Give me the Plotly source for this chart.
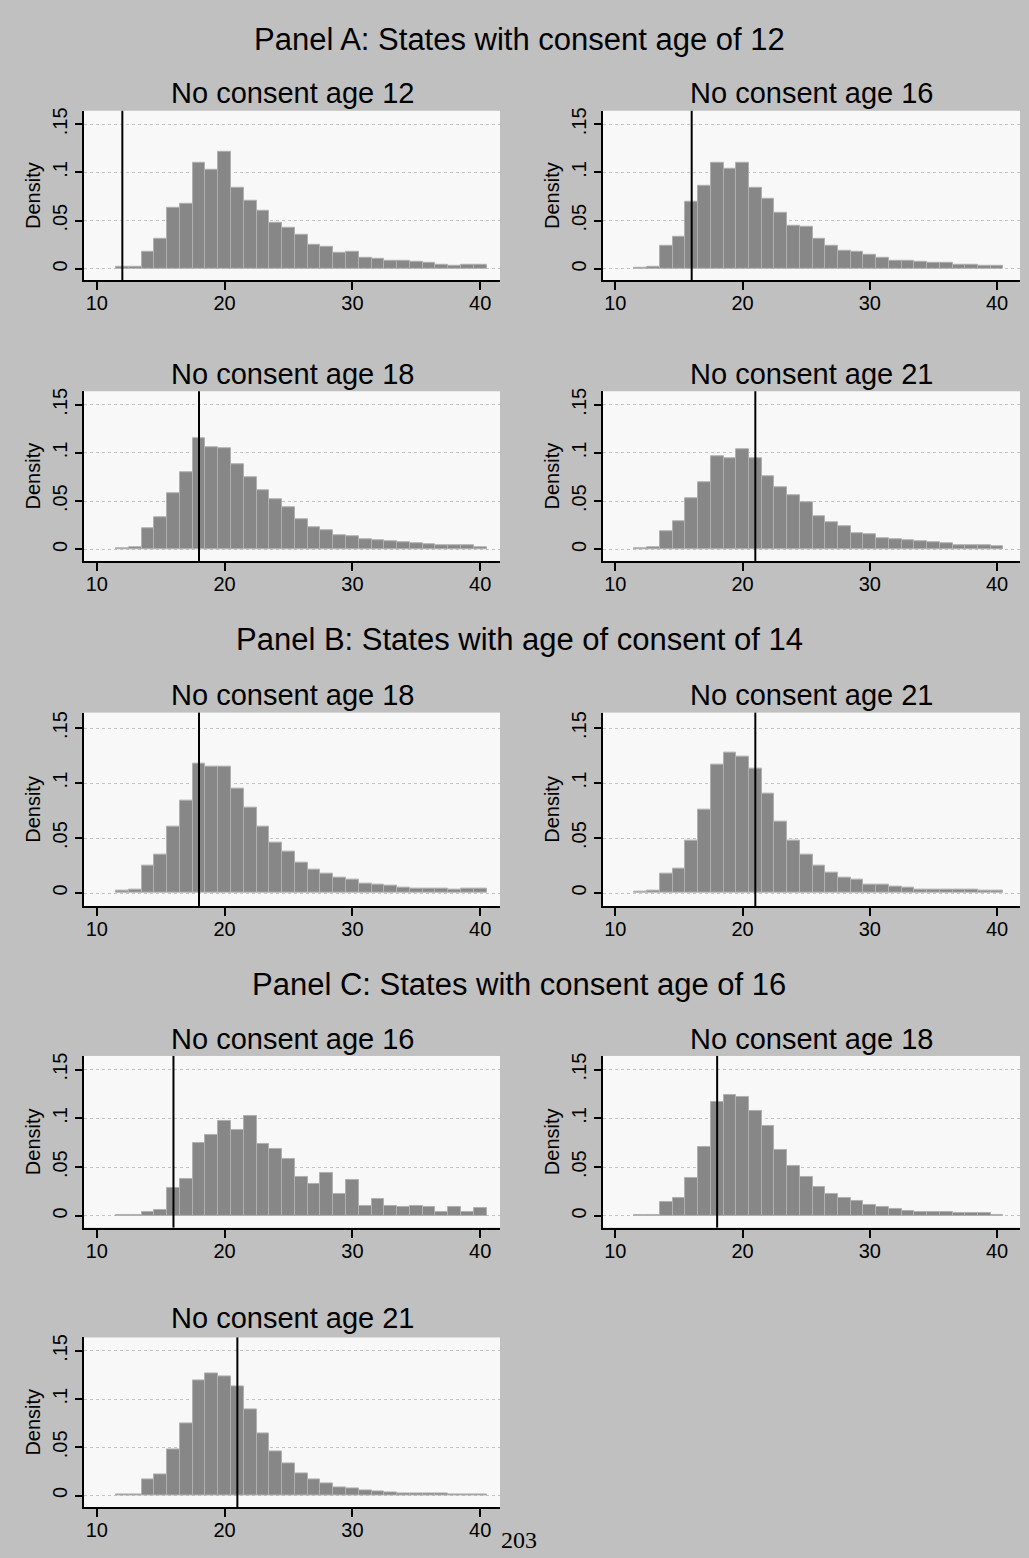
import plotly.graph_objects as go

# ---------------- data ----------------
ages = list(range(12, 41))  # histogram bins of width 1, centred on integer ages

a_no12 = [0.002, 0.002, 0.018, 0.031, 0.063, 0.068, 0.110, 0.103, 0.121, 0.084, 0.071, 0.060, 0.048, 0.043,
          0.035, 0.025, 0.023, 0.017, 0.018, 0.012, 0.010, 0.008, 0.008, 0.007, 0.006, 0.004, 0.003, 0.004, 0.004]
a_no16 = [0.001, 0.002, 0.024, 0.033, 0.070, 0.086, 0.110, 0.104, 0.110, 0.084, 0.073, 0.058, 0.045, 0.044,
          0.031, 0.024, 0.019, 0.018, 0.015, 0.012, 0.008, 0.008, 0.007, 0.006, 0.006, 0.004, 0.004, 0.003, 0.003]
a_no18 = [0.001, 0.002, 0.022, 0.033, 0.058, 0.080, 0.115, 0.106, 0.105, 0.088, 0.075, 0.061, 0.052, 0.044,
          0.031, 0.023, 0.020, 0.015, 0.014, 0.011, 0.009, 0.008, 0.007, 0.006, 0.005, 0.004, 0.004, 0.004, 0.002]
a_no21 = [0.001, 0.002, 0.019, 0.029, 0.053, 0.070, 0.097, 0.095, 0.104, 0.094, 0.076, 0.064, 0.056, 0.049,
          0.034, 0.028, 0.024, 0.017, 0.016, 0.012, 0.010, 0.009, 0.008, 0.007, 0.006, 0.004, 0.004, 0.004, 0.003]
b_no18 = [0.002, 0.003, 0.025, 0.035, 0.060, 0.084, 0.118, 0.115, 0.115, 0.095, 0.078, 0.060, 0.046, 0.038,
          0.028, 0.021, 0.018, 0.014, 0.012, 0.009, 0.008, 0.007, 0.005, 0.004, 0.004, 0.004, 0.003, 0.004, 0.004]
b_no21 = [0.001, 0.002, 0.018, 0.022, 0.048, 0.076, 0.117, 0.128, 0.124, 0.113, 0.090, 0.065, 0.048, 0.035,
          0.025, 0.019, 0.014, 0.012, 0.008, 0.008, 0.006, 0.005, 0.003, 0.003, 0.003, 0.003, 0.003, 0.002, 0.002]
c_no16 = [0.001, 0.001, 0.004, 0.006, 0.029, 0.038, 0.075, 0.083, 0.097, 0.088, 0.102, 0.074, 0.069, 0.058,
          0.040, 0.033, 0.044, 0.023, 0.037, 0.010, 0.017, 0.010, 0.009, 0.010, 0.009, 0.004, 0.009, 0.004, 0.008]
c_no18 = [0.001, 0.001, 0.014, 0.018, 0.039, 0.071, 0.117, 0.124, 0.122, 0.108, 0.092, 0.068, 0.051, 0.040,
          0.030, 0.023, 0.018, 0.015, 0.011, 0.009, 0.007, 0.005, 0.004, 0.004, 0.004, 0.003, 0.003, 0.003, 0.001]
c_no21 = [0.001, 0.001, 0.017, 0.022, 0.048, 0.075, 0.119, 0.127, 0.124, 0.113, 0.089, 0.064, 0.046, 0.033,
          0.023, 0.017, 0.013, 0.008, 0.007, 0.005, 0.004, 0.003, 0.002, 0.002, 0.002, 0.002, 0.001, 0.001, 0.001]

series = [a_no12, a_no16, a_no18, a_no21, b_no18, b_no21, c_no16, c_no18, c_no21]
cutoffs = [12, 16, 18, 21, 18, 21, 16, 18, 21]
subtitles = ["No consent age 12", "No consent age 16", "No consent age 18", "No consent age 21",
             "No consent age 18", "No consent age 21",
             "No consent age 16", "No consent age 18", "No consent age 21"]
panel_titles = ["Panel A: States with consent age of 12",
                "Panel B: States with age of consent of 14",
                "Panel C: States with consent age of 16"]
y_tickvals = [0, 0.05, 0.1, 0.15]
y_ticktext = ["0", ".05", ".1", ".15"]
x_tickvals = [10, 20, 30, 40]

# ---------------- layout geometry (pixels) ----------------
W, H = 1029, 1558
cols = {0: (84, 500, [9.0, 41.55]), 1: (603, 1020, [9.03, 41.8])}
rows = [(108, 278), (389, 559), (711, 905), (1055, 1227), (1337, 1507)]
title_y = [90, 372, 693, 1038, 1318]
panel_title_y = [37, 638, 983]
# (row, col) for each of the nine histograms
grid = [(0, 0), (0, 1), (1, 0), (1, 1), (2, 0), (2, 1), (3, 0), (3, 1), (4, 0)]

FONT = "Liberation Sans, Arial, sans-serif"

fig = go.Figure()
layout = dict(
    width=W, height=H, autosize=False,
    margin=dict(l=0, r=0, t=0, b=0),
    paper_bgcolor="#c0c0c0", plot_bgcolor="#f8f8f8",
    showlegend=False, font=dict(family=FONT, color="black"),
    bargap=0,
)
shapes = []
annotations = []

for i, (vals, cut, sub, (r, c)) in enumerate(zip(series, cutoffs, subtitles, grid)):
    n = "" if i == 0 else str(i + 1)
    x0p, x1p, xr = cols[c]
    top, bot = rows[r]
    fig.add_trace(go.Bar(
        x=ages, y=vals, width=1,
        marker=dict(color="#878787", line=dict(color="#b0b0b0", width=1)),
        xaxis="x" + n, yaxis="y" + n, hoverinfo="skip",
    ))
    layout["xaxis" + n] = dict(
        domain=[x0p / W, x1p / W], range=xr, anchor="y" + n,
        tickvals=x_tickvals, ticks="outside", ticklen=8, tickwidth=2, tickcolor="black",
        showline=True, linecolor="black", linewidth=2, showgrid=False, zeroline=False,
        tickfont=dict(size=20, family=FONT), ticklabelstandoff=-4,
    )
    layout["yaxis" + n] = dict(
        domain=[1 - bot / H, 1 - top / H], range=[-0.012, 0.164], anchor="x" + n,
        tickvals=y_tickvals, ticktext=y_ticktext, tickangle=-90,
        ticks="outside", ticklen=7, tickwidth=2, tickcolor="black",
        showline=True, linecolor="black", linewidth=2,
        showgrid=True, gridcolor="#c4c4c4", griddash="dot", gridwidth=1, zeroline=False,
        tickfont=dict(size=20, family=FONT),
        title=dict(text="Density", font=dict(size=20, family=FONT), standoff=3),
    )
    shapes.append(dict(type="line", xref="x" + n, yref="y" + n + " domain",
                       x0=cut, x1=cut, y0=0, y1=1, line=dict(color="black", width=2)))
    annotations.append(dict(text=sub, xref="paper", yref="paper",
                            x=(x0p + x1p) / 2 / W, y=1 - title_y[r] / H,
                            xanchor="center", yanchor="middle", showarrow=False,
                            font=dict(size=29, family=FONT, color="black")))

for t, py in zip(panel_titles, panel_title_y):
    annotations.append(dict(text=t, xref="paper", yref="paper", x=519 / W, y=1 - py / H,
                            xanchor="center", yanchor="middle", showarrow=False,
                            font=dict(size=31, family=FONT, color="black")))

annotations.append(dict(text="203", xref="paper", yref="paper", x=519 / W, y=1 - 1540 / H,
                        xanchor="center", yanchor="middle", showarrow=False,
                        font=dict(size=24, family="Liberation Serif, Times New Roman, serif", color="black")))

layout["shapes"] = shapes
layout["annotations"] = annotations
fig.update_layout(**layout)
fig.write_html("out.html")
